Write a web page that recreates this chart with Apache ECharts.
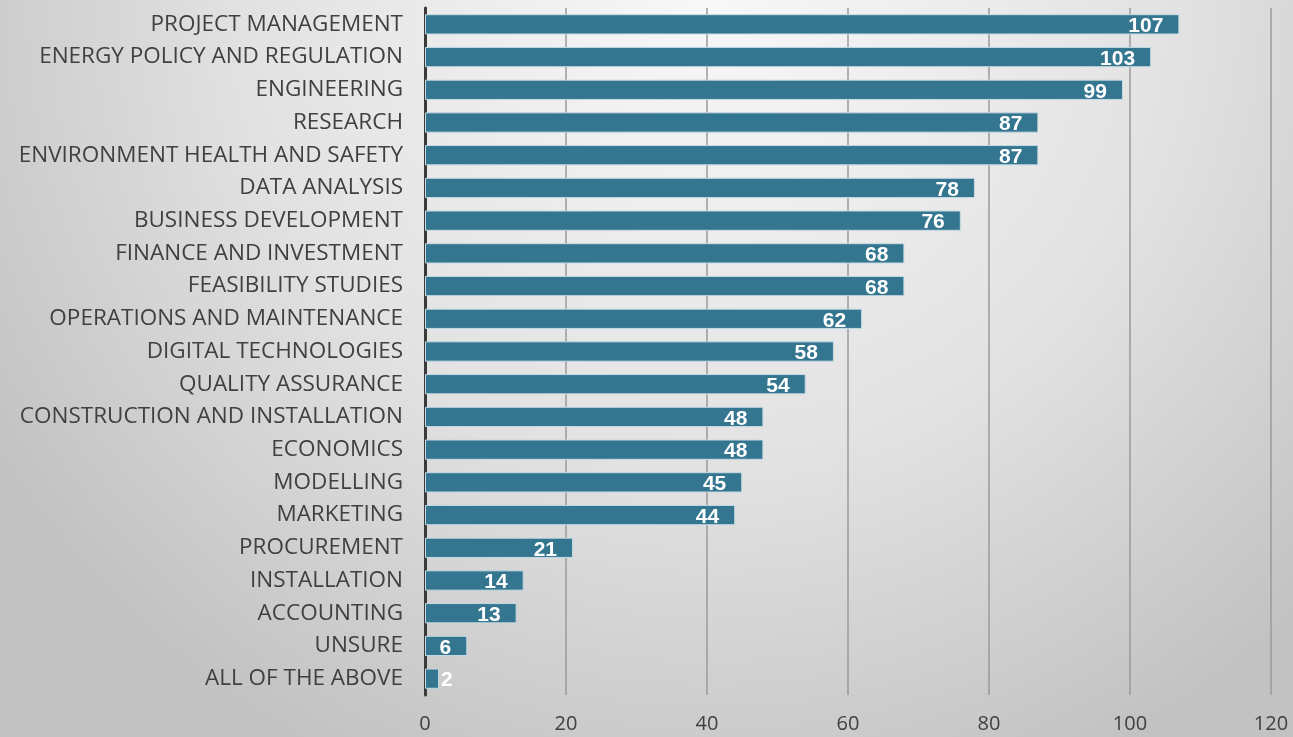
<!DOCTYPE html>
<html>
<head>
<meta charset="utf-8">
<script src="https://cdn.jsdelivr.net/npm/echarts@6/dist/echarts.min.js"></script>
<style>
  html, body { margin: 0; padding: 0; }
  #chart { width: 1293px; height: 737px; }
</style>
</head>
<body>
<div id="chart"></div>
<script>
// Skill areas, listed top to bottom
const categories = [
  'PROJECT MANAGEMENT',
  'ENERGY POLICY AND REGULATION',
  'ENGINEERING',
  'RESEARCH',
  'ENVIRONMENT HEALTH AND SAFETY',
  'DATA ANALYSIS',
  'BUSINESS DEVELOPMENT',
  'FINANCE AND INVESTMENT',
  'FEASIBILITY STUDIES',
  'OPERATIONS AND MAINTENANCE',
  'DIGITAL TECHNOLOGIES',
  'QUALITY ASSURANCE',
  'CONSTRUCTION AND INSTALLATION',
  'ECONOMICS',
  'MODELLING',
  'MARKETING',
  'PROCUREMENT',
  'INSTALLATION',
  'ACCOUNTING',
  'UNSURE',
  'ALL OF THE ABOVE'
];
const counts = [107, 103, 99, 87, 87, 78, 76, 68, 68, 62, 58, 54, 48, 48, 45, 44, 21, 14, 13, 6, 2];
const xTicks = [0, 20, 40, 60, 80, 100, 120];

const chart = echarts.init(document.getElementById('chart'), null, { renderer: 'canvas' });

// Bars too short for their label get the label placed just past the end
const barData = counts.map(v => {
  if (v < 4) {
    return { value: v, label: { position: 'right', distance: 2 } };
  }
  return v;
});

chart.setOption({
  backgroundColor: {
    type: 'radial', x: 0.55, y: 0.0, r: 1.15,
    colorStops: [
      { offset: 0, color: '#f8f8f8' },
      { offset: 0.55, color: '#e2e2e2' },
      { offset: 1, color: '#c2c2c2' }
    ]
  },
  animation: false,
  grid: { left: 425, right: 22, top: 8, bottom: 42, containLabel: false },
  xAxis: {
    type: 'value',
    min: xTicks[0],
    max: xTicks[xTicks.length - 1],
    interval: 20,
    axisLine: { show: false },
    axisTick: { show: false },
    splitLine: { show: true, lineStyle: { color: '#9a9a9a', width: 1.5 } },
    axisLabel: {
      color: '#404040', fontSize: 20, fontFamily: 'Open Sans', margin: 19
    }
  },
  yAxis: {
    type: 'category',
    data: categories,
    inverse: true,
    axisLine: { show: true, lineStyle: { color: '#3a3a3a', width: 3 } },
    axisTick: { show: false },
    axisLabel: {
      color: '#404040', fontSize: 22.5, fontFamily: 'Open Sans', margin: 22,
      padding: [3, 0, 0, 0]
    }
  },
  series: [{
    type: 'bar',
    data: barData,
    barCategoryGap: '38%',
    itemStyle: { color: '#347590', borderColor: '#c6dbe3', borderWidth: 1 },
    label: {
      show: true,
      position: 'insideRight',
      distance: 16,
      offset: [0, 2],
      color: '#ffffff',
      fontWeight: 'bold',
      fontSize: 21,
      fontFamily: 'Liberation Sans'
    }
  }]
});
</script>
</body>
</html>
